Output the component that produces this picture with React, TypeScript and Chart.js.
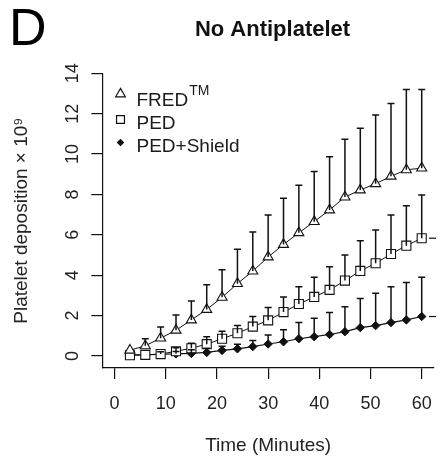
import React, { useEffect, useRef } from 'react';
import { Chart, registerables } from 'chart.js';

Chart.register(...registerables);

// ---- data ----
const times = [3, 6, 9, 12, 15, 18, 21, 24, 27, 30, 33, 36, 39, 42, 45, 48, 51, 54, 57, 60];
const fredMean = [0.28, 0.5, 0.88, 1.27, 1.78, 2.3, 2.9, 3.58, 4.2, 4.9, 5.52, 6.1, 6.65, 7.23, 7.87, 8.22, 8.53, 8.9, 9.22, 9.3];
const fredUpper = [0.35, 0.85, 1.43, 2.02, 2.72, 3.52, 4.27, 5.28, 6.14, 6.98, 7.81, 8.45, 9.13, 9.87, 10.73, 11.28, 11.94, 12.51, 13.2, 13.2];
const pedMean = [0.03, 0.05, 0.09, 0.23, 0.38, 0.58, 0.85, 1.12, 1.45, 1.76, 2.17, 2.57, 2.92, 3.27, 3.73, 4.21, 4.59, 5.05, 5.46, 5.83];
const pedUpper = [0.05, 0.1, 0.2, 0.4, 0.62, 0.95, 1.22, 1.5, 1.95, 2.4, 2.92, 3.43, 3.9, 4.42, 5.0, 5.7, 6.24, 6.98, 7.44, 7.97];
const shieldMean = [0.05, 0.05, 0.08, 0.1, 0.12, 0.17, 0.27, 0.35, 0.46, 0.59, 0.7, 0.85, 0.95, 1.06, 1.2, 1.4, 1.5, 1.65, 1.78, 1.95];
const shieldUpper = [0.06, 0.1, 0.15, 0.22, 0.3, 0.38, 0.48, 0.58, 0.76, 1.04, 1.3, 1.65, 1.87, 2.15, 2.44, 2.84, 3.1, 3.43, 3.63, 3.9];

const seriesNames = ['FRED', 'PED', 'PED+Shield'];
const seriesSuperscripts = ['TM', '', ''];
const xTicks = [0, 10, 20, 30, 40, 50, 60];
const yTicks = [0, 2, 4, 6, 8, 10, 12, 14];
const chartTitle = 'No Antiplatelet';
const panelLetter = 'D';
const xTitle = 'Time (Minutes)';
const yTitle = 'Platelet deposition \u00d7 10\u2079';

const FONT = '"Liberation Sans", Arial, Helvetica, sans-serif';
const INK = '#111';

function drawMarker(ctx: CanvasRenderingContext2D, style: string, x: number, y: number, r: number) {
  ctx.beginPath();
  if (style === 'triangle') {
    ctx.moveTo(x, y - r);
    ctx.lineTo(x + r * 0.866, y + r / 2);
    ctx.lineTo(x - r * 0.866, y + r / 2);
    ctx.closePath();
    ctx.fillStyle = '#fff';
    ctx.fill();
    ctx.stroke();
  } else if (style === 'rect') {
    const s = r * Math.SQRT1_2;
    ctx.rect(x - s, y - s, 2 * s, 2 * s);
    ctx.fillStyle = '#fff';
    ctx.fill();
    ctx.stroke();
  } else {
    ctx.moveTo(x, y - r);
    ctx.lineTo(x + r, y);
    ctx.lineTo(x, y + r);
    ctx.lineTo(x - r, y);
    ctx.closePath();
    ctx.fillStyle = INK;
    ctx.fill();
  }
}

const errorBarPlugin = {
  id: 'errorBars',
  afterDatasetsDraw(chart: any) {
    const { ctx, scales } = chart;
    const xs = scales.x;
    const ys = scales.y;
    ctx.save();
    ctx.strokeStyle = INK;
    ctx.lineWidth = 1.5;
    chart.data.datasets.forEach((ds: any) => {
      const ups: number[] = ds.upper;
      ds.data.forEach((p: any, i: number) => {
        const px = xs.getPixelForValue(p.x);
        const py0 = ys.getPixelForValue(p.y);
        const py1 = ys.getPixelForValue(ups[i]);
        if (py0 - py1 < 1.5) return;
        ctx.beginPath();
        ctx.moveTo(px, py0);
        ctx.lineTo(px, py1);
        ctx.moveTo(px - 3.5, py1);
        ctx.lineTo(px + 3.5, py1);
        ctx.stroke();
      });
    });
    ctx.restore();
  },
};

const decorPlugin = {
  id: 'decor',
  afterDraw(chart: any) {
    const { ctx, chartArea, scales } = chart;
    const ys = scales.y;
    ctx.save();
    // panel letter
    ctx.fillStyle = '#000';
    ctx.textBaseline = 'alphabetic';
    ctx.textAlign = 'left';
    ctx.font = `52px ${FONT}`;
    ctx.fillText(panelLetter, 9, 45);
    // title
    ctx.fillStyle = INK;
    ctx.textAlign = 'center';
    ctx.font = `bold 22px ${FONT}`;
    ctx.fillText(chartTitle, 272.5, 36);

    // legend
    const rowBase = [105.5, 128.5, 151.5];
    chart.data.datasets.forEach((ds: any, i: number) => {
      ctx.strokeStyle = INK;
      ctx.lineWidth = 1.2;
      const symY = rowBase[i] - (ds.pointStyle === 'triangle' ? 11.5 : 9);
      drawMarker(ctx, ds.pointStyle, 120.5, symY, ds.pointStyle === 'rect' ? 5.6 : ds.pointStyle === 'triangle' ? 5.6 : 3.8);
      ctx.fillStyle = '#1a1a1a';
      ctx.textAlign = 'left';
      ctx.font = `19px ${FONT}`;
      ctx.fillText(seriesNames[i], 136.5, rowBase[i]);
      if (seriesSuperscripts[i]) {
        const w = ctx.measureText(seriesNames[i]).width;
        ctx.font = `14px ${FONT}`;
        ctx.fillText(seriesSuperscripts[i], 136.5 + w + 1, rowBase[i] - 10.5);
      }
    });

    // short marks at the right edge for the last values of PED series
    ctx.strokeStyle = INK;
    ctx.lineWidth = 1.2;
    chart.data.datasets.forEach((ds: any) => {
      if (!ds.edgeMark) return;
      const last = ds.data[ds.data.length - 1];
      const py = ys.getPixelForValue(last.y);
      ctx.beginPath();
      ctx.moveTo(chartArea.right - 5, py);
      ctx.lineTo(chartArea.right + 2, py);
      ctx.stroke();
    });
    ctx.restore();
  },
};

export default function App() {
  const canvasRef = useRef<HTMLCanvasElement | null>(null);

  useEffect(() => {
    const canvas = canvasRef.current;
    if (!canvas) return;
    const mk = (vals: number[]) => times.map((t, i) => ({ x: t, y: vals[i] }));
    const chart = new Chart(canvas, {
      type: 'line',
      data: {
        datasets: [
          {
            label: seriesNames[0],
            data: mk(fredMean),
            upper: fredUpper,
            pointStyle: 'triangle',
            pointRadius: 5.8,
            pointBackgroundColor: '#fff',
            pointBorderColor: INK,
            pointBorderWidth: 1.1,
            borderColor: INK,
            borderWidth: 1,
            tension: 0,
          } as any,
          {
            label: seriesNames[1],
            data: mk(pedMean),
            upper: pedUpper,
            edgeMark: true,
            pointStyle: 'rect',
            pointRadius: 6.4,
            pointBackgroundColor: '#fff',
            pointBorderColor: INK,
            pointBorderWidth: 1.1,
            borderColor: INK,
            borderWidth: 1,
            tension: 0,
          } as any,
          {
            label: seriesNames[2],
            data: mk(shieldMean),
            upper: shieldUpper,
            edgeMark: true,
            pointStyle: 'rectRot',
            pointRadius: 4.2,
            pointBackgroundColor: INK,
            pointBorderColor: INK,
            pointBorderWidth: 1,
            borderColor: INK,
            borderWidth: 1.2,
            tension: 0,
          } as any,
        ],
      },
      options: {
        animation: false,
        responsive: false,
        maintainAspectRatio: false,
        devicePixelRatio: 1,
        events: [],
        layout: { padding: { top: 73.3, right: 1, bottom: 0, left: 0 } },
        plugins: {
          legend: { display: false },
          tooltip: { enabled: false },
          title: { display: false },
        },
        scales: {
          x: {
            type: 'linear',
            min: -2.4,
            max: 62.4,
            afterBuildTicks: (s: any) => {
              s.ticks = xTicks.map((v) => ({ value: v }));
            },
            afterFit: (s: any) => {
              s.height = 97;
            },
            grid: { drawOnChartArea: false, drawTicks: true, tickLength: 11, color: INK, lineWidth: 1.2 },
            border: { display: true, color: INK, width: 1.2 },
            ticks: {
              color: '#222',
              font: { family: FONT, size: 18 },
              padding: 14,
              maxRotation: 0,
              autoSkip: false,
            },
            title: {
              display: true,
              text: xTitle,
              color: '#222',
              font: { family: FONT, size: 19 },
              padding: { top: 0, bottom: 7.6 },
            },
          },
          y: {
            type: 'linear',
            min: -0.6,
            max: 14,
            afterBuildTicks: (s: any) => {
              s.ticks = yTicks.map((v) => ({ value: v }));
            },
            afterFit: (s: any) => {
              s.width = 102.3;
            },
            grid: { drawOnChartArea: false, drawTicks: true, tickLength: 11, color: INK, lineWidth: 1.2 },
            border: { display: true, color: INK, width: 1.2 },
            ticks: {
              color: '#222',
              font: { family: FONT, size: 18 },
              padding: 8.3,
              minRotation: 90,
              maxRotation: 90,
              crossAlign: 'center',
              autoSkip: false,
            },
            title: {
              display: true,
              text: yTitle,
              color: '#222',
              font: { family: FONT, size: 19 },
              padding: { top: 10, bottom: 0 },
            },
          },
        },
      } as any,
      plugins: [errorBarPlugin, decorPlugin],
    });
    return () => chart.destroy();
  }, []);

  return (
    <div style={{ position: 'fixed', left: 0, top: 0, width: 446, height: 465, background: '#fff' }}>
      <canvas ref={canvasRef} width={446} height={465} style={{ display: 'block' }} />
    </div>
  );
}
